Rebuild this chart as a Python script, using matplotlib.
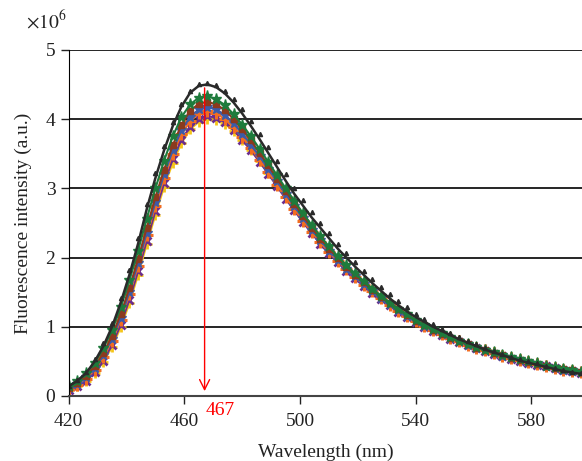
import numpy as np
import matplotlib
matplotlib.use("Agg")
import matplotlib.pyplot as plt

plt.rcParams['font.family'] = ['Liberation Serif', 'DejaVu Serif']
plt.rcParams['mathtext.fontset'] = 'stix'

# wavelength (nm), 3 nm step
wavelength = list(range(420, 598, 3))

black_line = [0.14, 0.22, 0.33, 0.50, 0.72, 1.00, 1.35, 1.75, 2.20, 2.70,
              3.15, 3.55, 3.90, 4.18, 4.38, 4.48, 4.50, 4.46, 4.37, 4.24,
              4.08, 3.90, 3.71, 3.51, 3.31, 3.11, 2.92, 2.75, 2.58, 2.43,
              2.28, 2.13, 2.00, 1.87, 1.75, 1.63, 1.52, 1.41, 1.31, 1.22,
              1.14, 1.07, 1.00, 0.94, 0.88, 0.82, 0.77, 0.72, 0.67, 0.63,
              0.59, 0.55, 0.51, 0.48, 0.45, 0.42, 0.39, 0.36, 0.34, 0.32]
black_tri = [0.15, 0.23, 0.35, 0.53, 0.76, 1.05, 1.41, 1.82, 2.28, 2.78,
             3.22, 3.61, 3.95, 4.22, 4.41, 4.50, 4.52, 4.49, 4.41, 4.29,
             4.14, 3.97, 3.78, 3.59, 3.39, 3.20, 3.01, 2.83, 2.66, 2.50,
             2.35, 2.20, 2.07, 1.94, 1.81, 1.69, 1.58, 1.47, 1.37, 1.28,
             1.19, 1.11, 1.04, 0.97, 0.91, 0.85, 0.80, 0.75, 0.70, 0.65,
             0.61, 0.57, 0.53, 0.50, 0.47, 0.44, 0.41, 0.38, 0.35, 0.33]
green = [0.15, 0.22, 0.33, 0.48, 0.69, 0.95, 1.28, 1.67, 2.10, 2.56,
         3.00, 3.40, 3.75, 4.03, 4.21, 4.31, 4.33, 4.29, 4.20, 4.07,
         3.92, 3.75, 3.57, 3.38, 3.19, 3.00, 2.82, 2.64, 2.47, 2.31,
         2.16, 2.02, 1.89, 1.77, 1.66, 1.55, 1.45, 1.35, 1.26, 1.18,
         1.10, 1.03, 0.97, 0.91, 0.85, 0.80, 0.75, 0.71, 0.67, 0.63,
         0.59, 0.56, 0.53, 0.50, 0.47, 0.44, 0.42, 0.39, 0.37, 0.35]
brown = [0.12, 0.19, 0.29, 0.43, 0.62, 0.87, 1.18, 1.56, 1.98, 2.43,
         2.87, 3.27, 3.62, 3.92, 4.12, 4.22, 4.25, 4.21, 4.13, 4.00,
         3.85, 3.69, 3.51, 3.33, 3.14, 2.96, 2.78, 2.60, 2.43, 2.27,
         2.13, 1.99, 1.86, 1.75, 1.64, 1.53, 1.43, 1.34, 1.25, 1.17,
         1.09, 1.02, 0.96, 0.90, 0.84, 0.79, 0.75, 0.70, 0.66, 0.62,
         0.59, 0.55, 0.52, 0.49, 0.46, 0.44, 0.41, 0.39, 0.37, 0.34]
blue = [0.11, 0.17, 0.27, 0.40, 0.59, 0.83, 1.13, 1.50, 1.92, 2.36,
        2.80, 3.20, 3.55, 3.84, 4.03, 4.14, 4.17, 4.14, 4.06, 3.94,
        3.79, 3.63, 3.46, 3.28, 3.10, 2.92, 2.74, 2.57, 2.40, 2.25,
        2.10, 1.97, 1.84, 1.73, 1.62, 1.52, 1.42, 1.33, 1.24, 1.16,
        1.08, 1.01, 0.95, 0.89, 0.84, 0.79, 0.74, 0.70, 0.66, 0.62,
        0.58, 0.55, 0.52, 0.49, 0.46, 0.43, 0.41, 0.38, 0.36, 0.34]
orange = [0.10, 0.16, 0.25, 0.38, 0.56, 0.80, 1.10, 1.47, 1.88, 2.32,
          2.75, 3.15, 3.50, 3.78, 3.97, 4.08, 4.11, 4.08, 4.00, 3.88,
          3.74, 3.58, 3.41, 3.23, 3.05, 2.87, 2.70, 2.53, 2.37, 2.22,
          2.08, 1.95, 1.83, 1.72, 1.61, 1.51, 1.41, 1.32, 1.23, 1.15,
          1.08, 1.01, 0.95, 0.89, 0.84, 0.79, 0.74, 0.70, 0.66, 0.62,
          0.58, 0.55, 0.52, 0.49, 0.46, 0.43, 0.41, 0.38, 0.36, 0.34]
purple = [0.09, 0.14, 0.22, 0.34, 0.51, 0.74, 1.03, 1.39, 1.80, 2.24,
          2.67, 3.07, 3.42, 3.70, 3.89, 4.00, 4.04, 4.02, 3.95, 3.84,
          3.70, 3.55, 3.38, 3.21, 3.03, 2.85, 2.68, 2.51, 2.35, 2.20,
          2.06, 1.93, 1.81, 1.70, 1.59, 1.49, 1.40, 1.31, 1.22, 1.14,
          1.07, 1.00, 0.94, 0.88, 0.83, 0.78, 0.73, 0.69, 0.65, 0.61,
          0.58, 0.54, 0.51, 0.48, 0.45, 0.43, 0.40, 0.38, 0.36, 0.33]
yellow = [0.09, 0.14, 0.22, 0.33, 0.49, 0.71, 0.99, 1.34, 1.75, 2.19,
          2.62, 3.02, 3.37, 3.65, 3.85, 3.96, 4.00, 3.99, 3.93, 3.83,
          3.70, 3.55, 3.39, 3.22, 3.05, 2.88, 2.71, 2.54, 2.38, 2.23,
          2.09, 1.96, 1.84, 1.72, 1.61, 1.51, 1.42, 1.33, 1.24, 1.16,
          1.09, 1.02, 0.96, 0.90, 0.85, 0.80, 0.75, 0.71, 0.67, 0.63,
          0.59, 0.56, 0.53, 0.50, 0.47, 0.44, 0.42, 0.39, 0.37, 0.35]

peak_nm = 467
peak_top = 4.49

fig = plt.figure(figsize=(5.82, 4.61), dpi=100)
ax = fig.add_axes([0.118, 0.141, 0.882, 0.751])

# colored series (back to front)
ax.plot(wavelength, yellow, color='#f5c518', marker='+', ms=7, mew=2, lw=1.5)
ax.plot(wavelength, purple, color='#6c2d8c', marker='x', ms=6, mew=2, lw=1.5)
ax.plot(wavelength, orange, color='#f26d21', marker='+', ms=8, mew=2.2, lw=1.5)
ax.plot(wavelength, blue, color='#3b5ba9', marker='*', ms=7, mew=1, lw=1.5)
ax.plot(wavelength, brown, color='#8b3a1e', marker='s', ms=4, mew=1, lw=1.5)
ax.plot(wavelength, green, color='#1e7b3c', marker='*', ms=8, mew=1, lw=1.5)
ax.plot(wavelength, black_tri, color='#2a2a2a', marker='^', ms=3, lw=0, ls='none')
ax.plot(wavelength, black_line, color='#2a2a2a', lw=1.8)

ax.set_xlim(420, 597.5)
ax.set_ylim(0, 5)
ax.set_xticks([420, 460, 500, 540, 580])
ax.set_yticks([0, 1, 2, 3, 4, 5])
ax.yaxis.grid(True, color='black', lw=1.2)
ax.set_axisbelow(True)
for s in ['top', 'right']:
    ax.spines[s].set_visible(False)
ax.spines['left'].set_color('black')
ax.spines['bottom'].set_color('#444444')
ax.spines['bottom'].set_linewidth(1.5)
ax.tick_params(labelsize=14, colors='#222222', length=6, width=1)
ax.tick_params(axis='x', pad=6)

ax.set_xlabel("Wavelength (nm)", fontsize=14, color='#222222', labelpad=10)
ax.set_ylabel("Fluorescence intensity (a.u.)", fontsize=14, color='#222222', labelpad=10)
fig.text(0.045, 0.955, r'$\times10^{6}$', fontsize=14, color='#222222', va='center')

# peak arrow
ax.annotate("", xy=(peak_nm, 0.03), xytext=(peak_nm, peak_top),
            arrowprops=dict(arrowstyle='->', color='red', lw=1, mutation_scale=18))
ax.text(peak_nm + 0.3, -0.08, str(peak_nm), color='red', fontsize=14,
        ha='left', va='top', clip_on=False)

fig.savefig("out.png", dpi=100)
